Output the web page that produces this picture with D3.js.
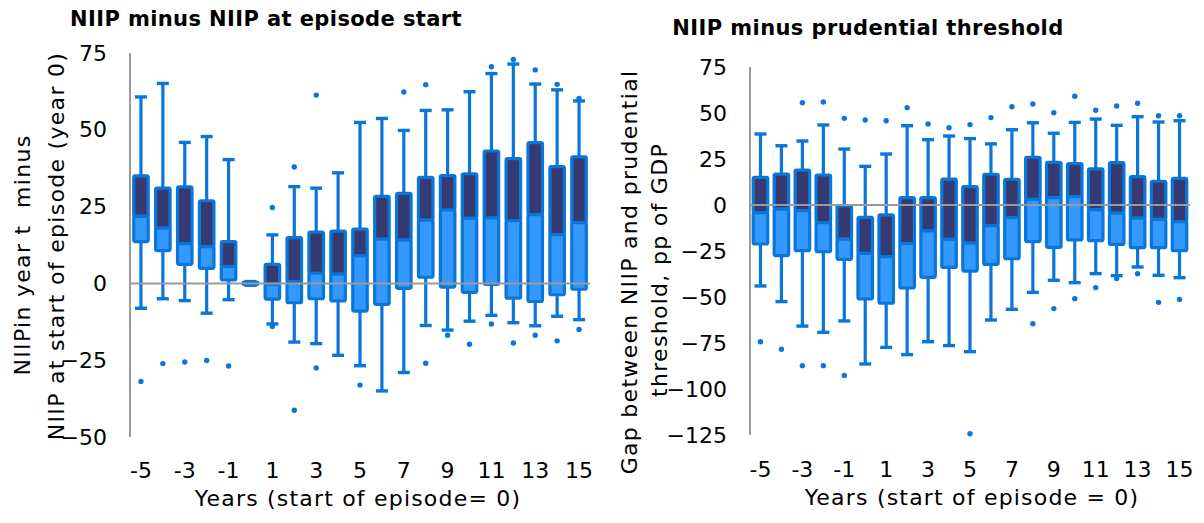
<!DOCTYPE html>
<html>
<head>
<meta charset="utf-8">
<script src="https://cdn.jsdelivr.net/npm/d3@7"></script>
<style>
body { margin: 0; background: #fff; }
text { font-family: "DejaVu Sans", Verdana, sans-serif; }
</style>
</head>
<body>
<svg width="1204" height="523"></svg>
<script>
// categories (years relative to episode start)
var years = [-5, -4, -3, -2, -1, 0, 1, 2, 3, 4, 5, 6, 7, 8, 9, 10, 11, 12, 13, 14, 15];
var yearTicks = [-5, -3, -1, 1, 3, 5, 7, 9, 11, 13, 15];

// left panel: NIIP minus NIIP at episode start
var leftHi  = [60.7, 65.1, 45.9, 47.8, 40.3, 0.6, 15.8, 31.5, 31.0, 36.0, 52.4, 53.7, 49.8, 56.3, 56.5, 62.4, 68.3, 71.4, 64.9, 63.0, 59.4];
var leftQ3  = [35.0, 31.0, 31.4, 26.9, 13.6, 0.4, 6.2, 14.9, 16.7, 17.0, 17.7, 28.3, 29.3, 34.5, 35.1, 35.7, 43.1, 40.6, 45.8, 38.0, 41.2];
var leftMed = [21.8, 18.0, 12.9, 12.0, 5.5, 0.0, -0.3, 0.6, 3.3, 3.0, 9.0, 14.4, 14.1, 20.6, 23.9, 21.2, 21.3, 20.4, 22.4, 15.9, 19.8];
var leftQ1  = [13.6, 10.7, 6.2, 4.9, 1.1, -0.4, -5.1, -6.3, -5.0, -5.7, -9.0, -6.8, -1.6, 2.0, -1.2, -2.9, -0.3, -4.8, -5.9, -3.7, -1.9];
var leftLo  = [-8.1, -5.0, -5.6, -9.7, -5.3, -0.6, -13.2, -19.1, -19.6, -23.4, -26.8, -35.0, -29.0, -13.7, -15.2, -12.3, -10.4, -12.8, -13.8, -10.7, -11.8];
var leftOut = [[-31.9], [-26.1], [-25.6], [-25.1], [-26.9], [], [24.7, -14.0], [37.9, -41.3], [61.3, -27.5], [], [-33.1], [],
               [62.3], [64.7, -26.0], [-16.9], [-19.8], [70.5, -13.2], [72.9, -19.4], [69.5, -16.9], [64.8, -18.7], [60.2, -15.0]];
var leftTicks = [-50, -25, 0, 25, 50, 75];

// right panel: NIIP minus prudential threshold
var rightHi  = [38.6, 32.2, 34.8, 43.5, 30.4, 21.0, 27.7, 43.1, 35.5, 37.5, 36.1, 33.2, 40.9, 44.7, 39.0, 44.9, 46.7, 43.3, 48.0, 45.1, 45.8];
var rightQ3  = [15.0, 16.8, 19.0, 16.3, -0.5, -6.7, -5.4, 4.0, 4.0, 14.1, 10.0, 16.7, 14.0, 25.9, 23.2, 22.5, 19.6, 23.0, 15.4, 12.9, 14.5];
var rightMed = [-4.2, -2.2, -3.1, -9.6, -18.5, -26.3, -28.1, -21.0, -14.1, -18.7, -20.7, -11.2, -6.9, 3.1, 4.0, 4.5, -2.7, -4.5, -7.1, -7.8, -9.1];
var rightQ1  = [-21.2, -27.5, -24.8, -25.4, -29.5, -51.1, -53.4, -45.1, -39.3, -33.9, -35.9, -32.3, -29.2, -19.9, -23.0, -19.0, -19.4, -21.4, -23.2, -23.2, -24.8];
var rightLo  = [-44.0, -52.5, -65.8, -69.2, -63.0, -86.4, -77.4, -81.3, -74.3, -76.4, -79.7, -62.5, -56.7, -47.5, -40.9, -42.2, -37.3, -38.4, -33.7, -38.2, -39.5];
var rightOut = [[-74.3], [-78.4], [55.6, -87.3], [56.0, -87.3], [47.1, -92.6], [46.2], [45.8], [52.9], [44.0], [42.0], [43.7, -124.3],
                [47.5], [53.4], [54.9, -64.5], [50.2, -56.3], [59.1, -50.9], [51.5, -44.9], [53.8, -40.0], [55.3, -37.3], [48.5, -52.9], [48.5, -51.3]];
var rightTicks = [-125, -100, -75, -50, -25, 0, 25, 50, 75];

var svg = d3.select("svg");
var BLUE = "#0b76d9", DARK = "#363a70", LIGHT = "#3399ff", GREY = "#9a9a9a";

function panel(o) {
    var x = d3.scaleBand().domain(years).range(o.xr).padding(0);
    var y = d3.scaleLinear().domain(o.yd).range(o.yr);
    var g = svg.append("g");
    var bw = 14.5, cw = 12;

    // y axis line
    g.append("line")
        .attr("x1", o.xr[0]).attr("x2", o.xr[0])
        .attr("y1", o.yr[1]).attr("y2", o.yr[0])
        .attr("stroke", GREY).attr("stroke-width", 2);

    years.forEach(function (yr, i) {
        var cx = x(yr) + x.bandwidth() / 2;
        // whisker
        g.append("line")
            .attr("x1", cx).attr("x2", cx)
            .attr("y1", y(o.hi[i])).attr("y2", y(o.lo[i]))
            .attr("stroke", BLUE).attr("stroke-width", 3.2);
        [o.hi[i], o.lo[i]].forEach(function (v) {
            g.append("line")
                .attr("x1", cx - cw / 2).attr("x2", cx + cw / 2)
                .attr("y1", y(v)).attr("y2", y(v))
                .attr("stroke", BLUE).attr("stroke-width", 3.4);
        });
        // upper half of box
        g.append("rect")
            .attr("x", cx - bw / 2).attr("width", bw)
            .attr("y", y(o.q3[i])).attr("height", y(o.med[i]) - y(o.q3[i]))
            .attr("rx", 1.5)
            .attr("fill", DARK).attr("stroke", BLUE).attr("stroke-width", 3.2);
        // lower half of box
        g.append("rect")
            .attr("x", cx - bw / 2).attr("width", bw)
            .attr("y", y(o.med[i])).attr("height", y(o.q1[i]) - y(o.med[i]))
            .attr("rx", 1.5)
            .attr("fill", LIGHT).attr("stroke", BLUE).attr("stroke-width", 3.2);
        // outliers
        o.out[i].forEach(function (v) {
            g.append("circle")
                .attr("cx", cx).attr("cy", y(v)).attr("r", 2.7)
                .attr("fill", BLUE);
        });
    });

    // zero line (category axis)
    g.append("line")
        .attr("x1", o.xr[0]).attr("x2", o.xr[1])
        .attr("y1", y(0)).attr("y2", y(0))
        .attr("stroke", GREY).attr("stroke-width", 2);

    // tick labels
    var yAxis = d3.axisLeft(y).tickValues(o.ticks).tickSize(0).tickPadding(23);
    g.append("g")
        .attr("transform", "translate(" + o.xr[0] + ",0)")
        .call(yAxis)
        .attr("font-size", 22).attr("font-family", null)
        .call(function (a) { a.select(".domain").remove(); });

    var xAxis = d3.axisBottom(x).tickValues(yearTicks).tickSize(0).tickPadding(0);
    g.append("g")
        .attr("transform", "translate(0," + o.xLabY + ")")
        .call(xAxis)
        .attr("font-size", 22).attr("font-family", null)
        .call(function (a) { a.select(".domain").remove(); });

    // titles
    g.append("text")
        .attr("x", o.title[1]).attr("y", o.title[2])
        .attr("text-anchor", "middle")
        .style("font-weight", "bold").style("font-size", "21px").style("letter-spacing", "0.4px")
        .text(o.title[0]);

    g.append("text")
        .attr("x", o.xTitle[1]).attr("y", o.xTitle[2])
        .attr("text-anchor", "middle")
        .style("font-size", "22px").style("letter-spacing", "1.2px")
        .text(o.xTitle[0]);

    o.yTitle.forEach(function (t) {
        g.append("text")
            .attr("transform", "translate(" + t[1] + "," + t[2] + ") rotate(-90)")
            .attr("text-anchor", "middle")
            .style("font-size", "22px").style("letter-spacing", "1.3px")
            .style("white-space", "pre")
            .text(t[0]);
    });
}

panel({
    xr: [130, 590], yd: [-50, 75], yr: [437, 53],
    hi: leftHi, q3: leftQ3, med: leftMed, q1: leftQ1, lo: leftLo, out: leftOut,
    ticks: leftTicks, xLabY: 462,
    title: ["NIIP minus NIIP at episode start", 266, 26],
    xTitle: ["Years (start of episode= 0)", 358, 506],
    yTitle: [["NIIPin year t  minus", 30, 255], ["NIIP at start of episode (year 0)", 64, 246]]
});

panel({
    xr: [750, 1190], yd: [-125, 75], yr: [435, 67],
    hi: rightHi, q3: rightQ3, med: rightMed, q1: rightQ1, lo: rightLo, out: rightOut,
    ticks: rightTicks, xLabY: 461,
    title: ["NIIP minus prudential threshold", 868, 35],
    xTitle: ["Years (start of episode = 0)", 972, 505],
    yTitle: [["Gap between NIIP and prudential", 637, 272], ["threshold, pp of GDP", 667, 270]]
});
</script>
</body>
</html>
